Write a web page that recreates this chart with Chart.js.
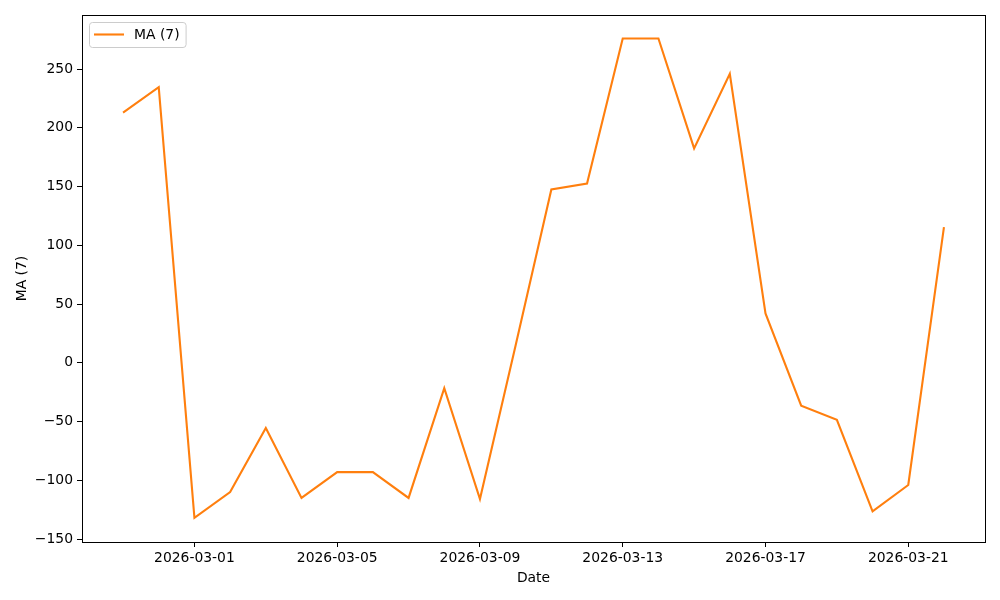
<!DOCTYPE html>
<html>
<head>
<meta charset="utf-8">
<script src="https://cdn.jsdelivr.net/npm/chart.js@4/dist/chart.umd.min.js"></script>
<style>
html,body{margin:0;padding:0;background:#fff;}
#wrap{width:1000px;height:600px;}
</style>
</head>
<body>
<div id="wrap"><canvas id="c" width="1000" height="600"></canvas></div>
<script>
const dates = ['2026-02-27','2026-02-28','2026-03-01','2026-03-02','2026-03-03','2026-03-04','2026-03-05','2026-03-06','2026-03-07','2026-03-08','2026-03-09','2026-03-10','2026-03-11','2026-03-12','2026-03-13','2026-03-14','2026-03-15','2026-03-16','2026-03-17','2026-03-18','2026-03-19','2026-03-20','2026-03-21','2026-03-22'];
const maValues = [213, 234.5, -132, -110, -55.5, -115, -93, -93, -115, -21.5, -116, 15, 147.5, 152.5, 276, 276, 182.5, 246, 42, -36.5, -48.5, -126.5, -104, 115.5];
const xTickLabels = ['2026-03-01','2026-03-05','2026-03-09','2026-03-13','2026-03-17','2026-03-21'];
const yTicks = [-150, -100, -50, 0, 50, 100, 150, 200, 250];
const seriesLabel = 'MA (7)';

const FONT = {family: "'DejaVu Sans', sans-serif", size: 13.9};
const points = maValues.map((v, i) => ({x: i, y: v}));
const xTickPos = xTickLabels.map(l => dates.indexOf(l));

const framePlugin = {
  id: 'frame',
  afterDraw(chart) {
    const {ctx, chartArea: a} = chart;
    ctx.save();
    ctx.strokeStyle = '#000';
    ctx.lineWidth = 1;
    ctx.strokeRect(Math.round(a.left) + 0.5, Math.round(a.top) + 0.5, Math.round(a.right - a.left), Math.round(a.bottom - a.top));
    // legend inside
    const ds = chart.data.datasets[0];
    ctx.font = "13.9px 'DejaVu Sans', sans-serif";
    const tw = ctx.measureText(ds.label).width;
    const bx = 89.5, by = 22.5, bw = 134 - 89 + tw + 6, bh = 25;
    const r = 3;
    ctx.beginPath();
    ctx.moveTo(bx + r, by);
    ctx.lineTo(bx + bw - r, by);
    ctx.quadraticCurveTo(bx + bw, by, bx + bw, by + r);
    ctx.lineTo(bx + bw, by + bh - r);
    ctx.quadraticCurveTo(bx + bw, by + bh, bx + bw - r, by + bh);
    ctx.lineTo(bx + r, by + bh);
    ctx.quadraticCurveTo(bx, by + bh, bx, by + bh - r);
    ctx.lineTo(bx, by + r);
    ctx.quadraticCurveTo(bx, by, bx + r, by);
    ctx.closePath();
    ctx.fillStyle = 'rgba(255,255,255,0.8)';
    ctx.fill();
    ctx.strokeStyle = '#cccccc';
    ctx.stroke();
    ctx.strokeStyle = ds.borderColor;
    ctx.lineWidth = 2.1;
    ctx.beginPath();
    ctx.moveTo(94, 34.5);
    ctx.lineTo(124, 34.5);
    ctx.stroke();
    ctx.fillStyle = '#000';
    ctx.textBaseline = 'middle';
    ctx.textAlign = 'left';
    ctx.fillText(ds.label, 134, 35);
    ctx.restore();
  }
};

new Chart(document.getElementById('c'), {
  type: 'line',
  data: {
    datasets: [{
      label: seriesLabel,
      data: points,
      borderColor: '#ff7f0e',
      backgroundColor: '#ff7f0e',
      borderWidth: 2.1,
      pointRadius: 0,
      tension: 0,
      fill: false
    }]
  },
  options: {
    responsive: false,
    animation: false,
    layout: {padding: {left: 0, right: 15, top: 15, bottom: 0}},
    plugins: {legend: {display: false}, tooltip: {enabled: false}},
    scales: {
      x: {
        type: 'linear',
        min: -1.15,
        max: 24.15,
        afterBuildTicks(scale) { scale.ticks = xTickPos.map(v => ({value: v})); },
        afterFit(scale) { scale.height = 58; },
        ticks: {
          color: '#000', font: FONT, padding: 3, maxRotation: 0, autoSkip: false,
          callback(v) { const i = xTickPos.indexOf(v); return i >= 0 ? xTickLabels[i] : ''; }
        },
        grid: {drawOnChartArea: false, drawTicks: true, tickLength: 5, color: '#000'},
        border: {display: false},
        title: {display: true, text: 'Date', color: '#000', font: FONT, padding: {top: 0, bottom: 13}}
      },
      y: {
        type: 'linear',
        min: -152.5,
        max: 296,
        afterBuildTicks(scale) { scale.ticks = yTicks.map(v => ({value: v})); },
        afterFit(scale) { scale.width = 82; },
        ticks: {
          color: '#000', font: FONT, padding: 4, autoSkip: false,
          callback(v) { return v < 0 ? '\u2212' + Math.abs(v) : String(v); }
        },
        grid: {drawOnChartArea: false, drawTicks: true, tickLength: 5, color: '#000'},
        border: {display: false},
        title: {display: true, text: seriesLabel, color: '#000', font: FONT, padding: {top: 14, bottom: 0}}
      }
    }
  },
  plugins: [framePlugin]
});
</script>
</body>
</html>
